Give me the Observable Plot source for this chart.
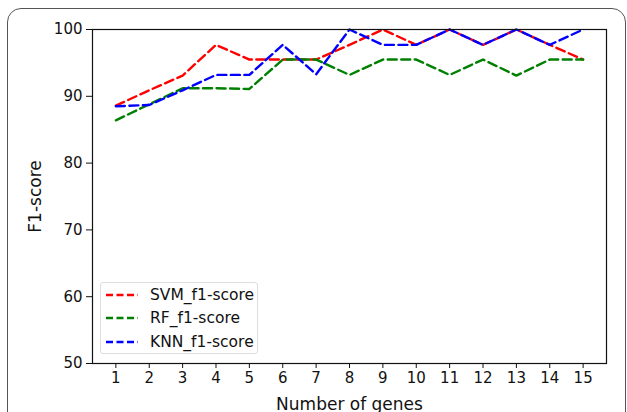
<!DOCTYPE html>
<html>
<head>
<meta charset="utf-8">
<script src="https://cdn.jsdelivr.net/npm/d3@7"></script>
<script src="https://cdn.jsdelivr.net/npm/@observablehq/plot@0.6"></script>
<style>
  html, body { margin: 0; padding: 0; background: #fff; }
  #wrap { position: relative; width: 627px; height: 412px; overflow: hidden; font-family: "DejaVu Sans", sans-serif; }
  #border { position: absolute; left: 7px; top: 8px; width: 619px; height: 430px; border: 1px solid #555; border-radius: 14px; box-sizing: border-box; pointer-events: none; }
  #legend { position: absolute; left: 100px; top: 282px; width: 158px; height: 72px; border: 1px solid #ddd; border-radius: 3px; box-sizing: border-box; background: rgba(255,255,255,0.8); font-size: 15.5px; color: #111; }
  #legend .row { position: absolute; left: 5px; height: 20px; display: flex; align-items: center; }
  #legend svg { margin-right: 12px; }
  #chart { position: absolute; left: 0; top: 0; }
</style>
</head>
<body>
<div id="wrap">
  <div id="chart"></div>
  <div id="border"></div>
  <div id="legend"></div>
</div>
<script>
const genes = [1,2,3,4,5,6,7,8,9,10,11,12,13,14,15];
const svm = [88.6, 90.9, 93.1, 97.7, 95.5, 95.5, 95.5, 97.7, 100, 97.7, 100, 97.7, 100, 97.7, 95.5];
const rf  = [86.4, 88.8, 91.2, 91.2, 91.1, 95.5, 95.5, 93.2, 95.5, 95.5, 93.2, 95.5, 93.1, 95.5, 95.5];
const knn = [88.5, 88.7, 90.9, 93.2, 93.2, 97.7, 93.3, 100, 97.7, 97.7, 100, 97.7, 100, 97.7, 100];
const seriesNames = ["SVM_f1-score", "RF_f1-score", "KNN_f1-score"];
const seriesColors = ["#ff0000", "#008000", "#0000ff"];
const yTicks = [50, 60, 70, 80, 90, 100];

const seriesValues = [svm, rf, knn];
const data = [];
seriesNames.forEach((name, i) => {
  genes.forEach((g, j) => data.push({series: name, genes: g, score: seriesValues[i][j]}));
});

const chart = Plot.plot({
  width: 627,
  height: 412,
  marginLeft: 92,
  marginRight: 21,
  marginTop: 29,
  marginBottom: 49,
  style: {fontSize: "15px", fontFamily: "DejaVu Sans, sans-serif", color: "#111", background: "transparent"},
  x: {domain: [0.3, 15.7]},
  y: {domain: [50, 100]},
  color: {domain: seriesNames, range: seriesColors},
  marks: [
    Plot.axisX({ticks: genes, tickSize: 5, tickPadding: 4, label: null, fontSize: 15, stroke: "#111", fill: "#111"}),
    Plot.axisX({ticks: [], tickSize: 0, label: "Number of genes", labelAnchor: "center", labelArrow: "none", labelOffset: 46, fontSize: 17, fill: "#111"}),
    Plot.axisY({ticks: yTicks, tickSize: 6, tickPadding: 4, label: null, fontSize: 15, stroke: "#111", fill: "#111"}),
    Plot.axisY({ticks: [], tickSize: 0, label: "F1-score", labelAnchor: "center", labelArrow: "none", labelOffset: 64, fontSize: 17, fill: "#111"}),
    Plot.line(data, {x: "genes", y: "score", z: "series", stroke: "series", strokeWidth: 2.4, strokeDasharray: "9,4.5", clip: false}),
    Plot.frame({stroke: "#111", strokeWidth: 1.2})
  ]
});
document.getElementById("chart").appendChild(chart);

const legend = document.getElementById("legend");
seriesNames.forEach((name, i) => {
  const row = document.createElement("div");
  row.className = "row";
  row.style.top = (2 + i * 23.3) + "px";
  row.innerHTML = `<svg width="32" height="6"><line x1="0" y1="3" x2="32" y2="3" stroke="${seriesColors[i]}" stroke-width="2.4" stroke-dasharray="7,3.5"/></svg><span>${name}</span>`;
  legend.appendChild(row);
});
</script>
</body>
</html>
